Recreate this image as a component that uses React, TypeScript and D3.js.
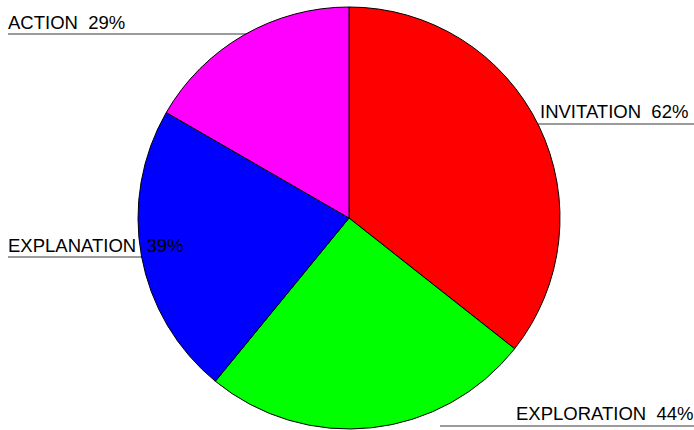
import React, { useEffect, useRef } from 'react';
import * as d3 from 'd3';

// slice data, clockwise from 12 o'clock
const categories = ['INVITATION', 'EXPLORATION', 'EXPLANATION', 'ACTION'];
const values = [62, 44, 39, 29];
const colors = ['#ff0000', '#00ff00', '#0000ff', '#ff00ff'];

// where each callout sits: text start, baseline, and the rule underneath
const labelLayout = [
  { x: 540, y: 118, lineY: 124, x1: 530, x2: 694 },
  { x: 516, y: 420, lineY: 426, x1: 440, x2: 694 },
  { x: 8, y: 252, lineY: 257, x1: 8, x2: 170 },
  { x: 8, y: 29, lineY: 34, x1: 8, x2: 260 },
];

const App: React.FC = () => {
  const svgRef = useRef<SVGSVGElement>(null);

  useEffect(() => {
    if (!svgRef.current) return;
    const width = 694;
    const height = 430;
    const cx = 349;
    const cy = 218;
    const radius = 211;

    const svg = d3.select(svgRef.current);
    svg.selectAll('*').remove();

    // leader rules go underneath the pie
    svg
      .selectAll('line.rule')
      .data(labelLayout)
      .enter()
      .append('line')
      .attr('class', 'rule')
      .attr('x1', (d) => d.x1)
      .attr('x2', (d) => d.x2)
      .attr('y1', (d) => d.lineY)
      .attr('y2', (d) => d.lineY)
      .attr('stroke', '#7a7a7a')
      .attr('stroke-width', 1.5);

    const pie = d3.pie<number>().sort(null).value((d) => d);
    const arc = d3.arc<d3.PieArcDatum<number>>().innerRadius(0).outerRadius(radius);

    svg
      .append('g')
      .attr('transform', `translate(${cx},${cy})`)
      .selectAll('path')
      .data(pie(values))
      .enter()
      .append('path')
      .attr('d', arc as any)
      .attr('fill', (d, i) => colors[i])
      .attr('stroke', '#000')
      .attr('stroke-width', 1);

    svg
      .selectAll('text.label')
      .data(categories)
      .enter()
      .append('text')
      .attr('class', 'label')
      .attr('x', (d, i) => labelLayout[i].x)
      .attr('y', (d, i) => labelLayout[i].y)
      .attr('font-family', 'Liberation Sans, Arial, sans-serif')
      .attr('font-size', 18.5)
      .attr('fill', '#000')
      .attr('xml:space', 'preserve')
      .style('white-space', 'pre')
      .text((d, i) => `${d}  ${values[i]}%`);

    svg.attr('width', width).attr('height', height);
  }, []);

  return (
    <svg
      ref={svgRef}
      width={694}
      height={430}
      style={{ position: 'absolute', left: 0, top: 0, background: '#fff' }}
    />
  );
};

export default App;
